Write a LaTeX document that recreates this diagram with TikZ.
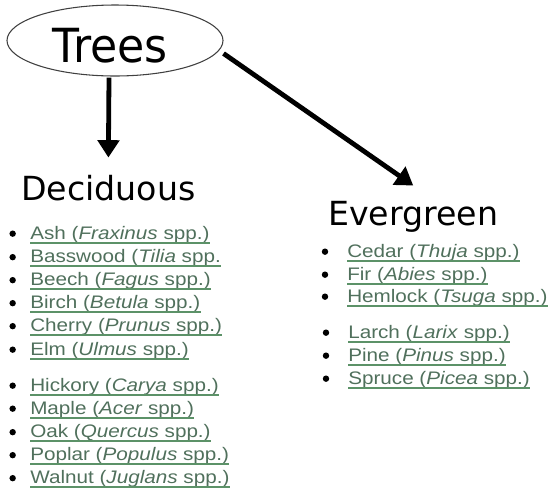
\documentclass[tikz,border=0pt]{standalone}
\usepackage{fontspec}
\setmainfont{Liberation Sans}[FakeStretch=1.14]
\newfontfamily\headfont{DejaVu Sans}
\newfontfamily\treefont{DejaVu Sans}[FakeStretch=0.94]
\usetikzlibrary{arrows.meta,calc,shapes.geometric}
\definecolor{linktext}{RGB}{80,112,92}
\definecolor{linkline}{RGB}{92,146,104}
\tikzset{
  arr/.style={line width=3.6pt,-{Triangle[length=13pt,width=16pt]}},
  lnk/.style={anchor=base west,inner sep=0pt,text=linktext,font=\fontsize{13.6pt}{16pt}\selectfont},
  ul/.style={draw=linkline,line width=1.2pt},
  head/.style={anchor=base west,inner sep=0pt,font=\headfont\fontsize{24.9pt}{28pt}\selectfont},
}
\newcommand\lk[5]{%
  \node[lnk] (#1) at (#2) {#3};
  \draw[ul] ([yshift=-2.8pt]#1.base west) -- ([yshift=-2.8pt]#1.base east);
  \fill ([xshift=-#4pt,yshift=4pt]#1.base west) circle (2.4pt);
}
\begin{document}
\begin{tikzpicture}[x=0.75pt,y=-0.75pt]
\useasboundingbox (0,0) rectangle (557,490);
\node[draw=black!75,line width=0.8pt,ellipse,minimum width=216*0.75pt,minimum height=71*0.75pt,inner sep=0pt] (trees) at (115,40.5) {};
\node[anchor=base,inner sep=0pt,font=\treefont\fontsize{35.25pt}{40pt}\selectfont] (treestxt) at (110,62) {Trees};
\node[head] (dec) at (21,200) {Deciduous};
\node[head] (eve) at (328,225) {Evergreen};
\draw[arr] ($(trees.south)+(-6,1)$) -- ($(dec.north)+(0,-17)$);
\draw[arr] ($(trees.east)+(0,13)$) -- ($(eve.north)+(0,-15)$);
\lk{ash}{30,239}{Ash (\textit{Fraxinus} spp.)}{13}{}
\lk{bass}{30,262.5}{Basswood (\textit{Tilia} spp.}{13}{}
\lk{beech}{30,285.5}{Beech (\textit{Fagus} spp.)}{13}{}
\lk{birch}{30,308.5}{Birch (\textit{Betula} spp.)}{13}{}
\lk{cherry}{30,331.5}{Cherry (\textit{Prunus} spp.)}{13}{}
\lk{elm}{30,355}{Elm (\textit{Ulmus} spp.)}{13}{}
\lk{hick}{30,391}{Hickory (\textit{Carya} spp.)}{13}{}
\lk{maple}{30,414}{Maple (\textit{Acer} spp.)}{13}{}
\lk{oak}{30,437.5}{Oak (\textit{Quercus} spp.)}{13}{}
\lk{poplar}{30,460.5}{Poplar (\textit{Populus} spp.)}{13}{}
\lk{walnut}{30,483.5}{Walnut (\textit{Juglans} spp.)}{13}{}
\lk{cedar}{347,257}{Cedar (\textit{Thuja} spp.)}{16.5}{}
\lk{fir}{347,280}{Fir (\textit{Abies} spp.)}{16.5}{}
\lk{hem}{347,302}{Hemlock (\textit{Tsuga} spp.)}{16.5}{}
\lk{larch}{348,338}{Larch (\textit{Larix} spp.)}{16.5}{}
\lk{pine}{348,361}{Pine (\textit{Pinus} spp.)}{16.5}{}
\lk{spruce}{348,384}{Spruce (\textit{Picea} spp.)}{16.5}{}
\end{tikzpicture}
\end{document}
